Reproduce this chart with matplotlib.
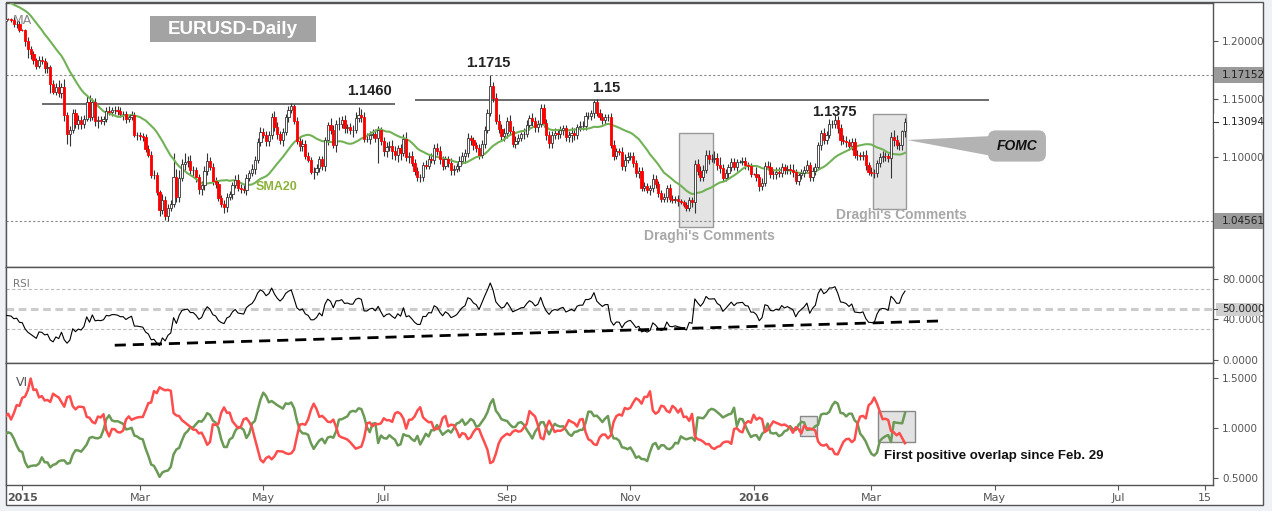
import numpy as np
import pandas as pd
import matplotlib
matplotlib.use('Agg')
import matplotlib.pyplot as plt
from matplotlib.patches import Rectangle, Polygon
from matplotlib.transforms import blended_transform_factory

# EURUSD daily closes, one per weekday starting 2014-11-24
closes = [
    1.2440, 1.2475, 1.2505, 1.2470, 1.2450,
    1.2470, 1.2385, 1.2310, 1.2380, 1.2290,
    1.2305, 1.2385, 1.2450, 1.2430, 1.2465,
    1.2440, 1.2505, 1.2340, 1.2285, 1.2230,
    1.2230, 1.2180, 1.2195, 1.2190, 1.2185,
    1.2150, 1.2155, 1.2100, 1.2095, 1.2000,
    1.1935, 1.1890, 1.1840, 1.1790, 1.1840,
    1.1830, 1.1775, 1.1780, 1.1630, 1.1565,
    1.1605, 1.1555, 1.1610, 1.1365, 1.1205,
    1.1240, 1.1380, 1.1285, 1.1320, 1.1290,
    1.1335, 1.1480, 1.1345, 1.1475, 1.1315,
    1.1325, 1.1315, 1.1330, 1.1400, 1.1390,
    1.1410, 1.1410, 1.1400, 1.1375, 1.1375,
    1.1330, 1.1350, 1.1365, 1.1195, 1.1195,
    1.1185, 1.1175, 1.1075, 1.1025, 1.0845,
    1.0850, 1.0700, 1.0550, 1.0635, 1.0495,
    1.0565, 1.0595, 1.0830, 1.0660, 1.0825,
    1.0940, 1.0960, 1.0970, 1.0890, 1.0890,
    1.0830, 1.0730, 1.0760, 1.0880, 1.0970,
    1.0920, 1.0800, 1.0770, 1.0655, 1.0600,
    1.0570, 1.0660, 1.0685, 1.0765, 1.0810,
    1.0740, 1.0730, 1.0720, 1.0825, 1.0870,
    1.0900, 1.0980, 1.1130, 1.1220, 1.1195,
    1.1140, 1.1190, 1.1350, 1.1265, 1.1200,
    1.1155, 1.1220, 1.1345, 1.1410, 1.1445,
    1.1315, 1.1145, 1.1095, 1.1120, 1.1015,
    1.0980, 1.0875, 1.0875, 1.0910, 1.0985,
    1.0925, 1.1150, 1.1280, 1.1240, 1.1110,
    1.1290, 1.1290, 1.1320, 1.1250, 1.1260,
    1.1240, 1.1240, 1.1340, 1.1365, 1.1350,
    1.1160, 1.1160, 1.1195, 1.1205, 1.1165,
    1.1235, 1.1145, 1.1055, 1.1090, 1.1100,
    1.1055, 1.1020, 1.1080, 1.1040, 1.1160,
    1.1000, 1.1015, 1.0955, 1.0880, 1.0830,
    1.0830, 1.0935, 1.0930, 1.0985, 1.0980,
    1.1085, 1.1060, 1.0985, 1.0930, 1.0985,
    1.0955, 1.0890, 1.0905, 1.0925, 1.0970,
    1.1015, 1.1040, 1.1165, 1.1150, 1.1105,
    1.1085, 1.1025, 1.1120, 1.1240, 1.1385,
    1.1615, 1.1515, 1.1315, 1.1245, 1.1185,
    1.1210, 1.1315, 1.1230, 1.1120, 1.1145,
    1.1170, 1.1200, 1.1205, 1.1280, 1.1340,
    1.1315, 1.1260, 1.1290, 1.1430, 1.1300,
    1.1195, 1.1125, 1.1190, 1.1215, 1.1200,
    1.1235, 1.1250, 1.1175, 1.1195, 1.1215,
    1.1190, 1.1260, 1.1275, 1.1275, 1.1360,
    1.1360, 1.1380, 1.1475, 1.1385, 1.1350,
    1.1320, 1.1345, 1.1345, 1.1110, 1.1015,
    1.1055, 1.1050, 1.0925, 1.0980, 1.1005,
    1.1015, 1.0950, 1.0865, 1.0880, 1.0740,
    1.0750, 1.0720, 1.0735, 1.0815, 1.0770,
    1.0690, 1.0645, 1.0660, 1.0735, 1.0645,
    1.0635, 1.0645, 1.0625, 1.0615, 1.0590,
    1.0565, 1.0630, 1.0615, 1.0940, 1.0885,
    1.0835, 1.0895, 1.1025, 1.0990, 1.0990,
    1.0995, 1.0935, 1.0910, 1.0825, 1.0865,
    1.0915, 1.0965, 1.0920, 1.0960, 1.0965,
    1.0970, 1.0935, 1.0930, 1.0860, 1.0860,
    1.0830, 1.0750, 1.0780, 1.0930, 1.0920,
    1.0860, 1.0855, 1.0875, 1.0865, 1.0915,
    1.0890, 1.0905, 1.0890, 1.0875, 1.0800,
    1.0845, 1.0870, 1.0895, 1.0935, 1.0830,
    1.0885, 1.0920, 1.1105, 1.1210, 1.1155,
    1.1195, 1.1290, 1.1290, 1.1320, 1.1255,
    1.1150, 1.1145, 1.1130, 1.1095, 1.1130,
    1.1025, 1.1020, 1.1015, 1.1025, 1.0935,
    1.0875, 1.0870, 1.0865, 1.0950, 1.1005,
    1.1015, 1.1010, 1.0995, 1.1180, 1.1150,
    1.1105, 1.1105, 1.1225, 1.1310,
]

# wick lengths in pips above max(open, close) / below min(open, close)
up_wick = [
    25, 30, 35, 20, 25,  30, 40, 30, 35, 45,  30, 45, 40, 35, 30,  60, 40, 45, 30, 25,
    20, 25, 15, 5, 15,   30, 20, 25, 5, 15,   40, 25, 30, 20, 35,  35, 30, 40, 20, 40,
    40, 60, 30, 70, 25,  30, 40, 40, 50, 40,  30, 55, 60, 35, 40,  30, 35, 25, 35, 40,
    25, 30, 30, 35, 30,  25, 20, 35, 25, 25,  25, 30, 30, 35, 30,  40, 25, 20, 50, 30,
    30, 40, 213, 70, 65, 50, 80, 40, 50, 40,  30, 30, 40, 45, 65,  35, 30, 30, 25, 25,
    30, 35, 30, 25, 40,  50, 30, 35, 30, 25,  40, 30, 35, 40, 30,  30, 40, 30, 50, 45,
    30, 30, 30, 30, 22,  20, 30, 40, 40, 30,  30, 25, 40, 30, 25,  30, 30, 25, 60, 40,
    30, 60, 40, 50, 30,  40, 40, 50, 70, 50,  40, 50, 30, 40, 40,  40, 30, 30, 40, 40,
    50, 40, 30, 40, 40,  60, 30, 40, 30, 40,  30, 30, 40, 40, 50,  30, 40, 40, 30, 30,
    30, 40, 30, 30, 40,  30, 30, 50, 30, 30,  30, 30, 30, 30, 30,  99, 40, 40, 60, 40,
    40, 30, 50, 40, 40,  30, 20, 50, 40, 30,  40, 30, 30, 30, 30,  30, 30, 40, 40, 30,
    35, 30, 30, 30, 50,  40, 30, 40, 40, 30,  30, 30, 20, 30, 30,  30, 30, 30, 40, 40,
    30, 30, 40, 50, 40,  30, 30, 30, 40, 40,  40, 30, 30, 40, 30,  30, 30, 30, 30, 40,
    30, 20, 30, 20, 20,  30, 30, 30, 41, 50,  40, 40, 40, 40, 40,  60, 40, 70, 30, 40,
    30, 30, 30, 30, 10,  30, 30, 30, 20, 10,  60, 30, 40, 30, 40,  40, 40, 40, 40, 40,
    30, 30, 40, 50, 30,  30, 30, 30, 40, 30,  30, 30, 30, 30, 40,  30, 40, 30, 56, 40,
    30, 40, 40, 30, 40,  40, 40, 30, 30, 40,  30, 40, 30, 30, 30,  40, 30, 30, 38, 60,
    40, 30, 15, 32,
]
down_wick = [
    30, 25, 20, 35, 25,  35, 30, 40, 45, 40,  45, 30, 30, 40, 35,  35, 60, 40, 35, 30,
    30, 25, 20, 5, 20,   25, 30, 20, 5, 40,   75, 40, 30, 25, 20,  20, 45, 50, 70, 20,
    30, 30, 40, 50, 90,  107, 30, 35, 40, 45, 40, 20, 30, 25, 45,  60, 30, 35, 20, 25,
    30, 35, 30, 30, 50,  35, 25, 25, 20, 45,  30, 35, 25, 25, 20,  30, 20, 55, 40, 33,
    45, 30, 20, 45, 40,  30, 50, 45, 40, 55,  40, 45, 50, 40, 30,  30, 40, 35, 30, 30,
    50, 40, 30, 40, 30,  30, 40, 30, 45, 30,  30, 40, 30, 35, 30,  40, 40, 30, 40, 40,
    40, 60, 30, 40, 30,  30, 30, 40, 40, 30,  20, 20, 60, 30, 35,  30, 40, 40, 40, 30,
    60, 50, 40, 40, 35,  40, 60, 30, 30, 40,  30, 30, 40, 30, 30,  210, 40, 40, 50, 30,
    70, 40, 60, 60, 30,  30, 50, 30, 30, 30,  40, 30, 30, 30, 30,  40, 40, 40, 40, 30,
    40, 40, 40, 30, 40,  30, 60, 40, 40, 40,  40, 40, 30, 40, 30,  30, 40, 30, 30, 30,
    40, 40, 30, 30, 40,  30, 30, 40, 30, 40,  40, 40, 40, 30, 40,  40, 40, 40, 30, 40,
    30, 40, 30, 40, 60,  40, 30, 30, 40, 40,  30, 40, 40, 30, 30,  30, 30, 30, 30, 40,
    30, 30, 30, 40, 30,  30, 30, 30, 40, 30,  30, 30, 40, 30, 30,  30, 30, 30, 40, 30,
    30, 30, 40, 20, 20,  30, 30, 40, 91, 40,  40, 40, 30, 50, 30,  40, 40, 40, 30, 30,
    40, 30, 30, 40, 10,  30, 30, 40, 30, 10,  30, 40, 30, 30, 30,  40, 40, 40, 30, 30,
    30, 30, 30, 40, 30,  40, 30, 40, 30, 30,  30, 40, 30, 40, 40,  40, 30, 40, 40, 40,
    40, 30, 40, 30, 30,  30, 40, 40, 40, 40,  30, 30, 40, 30, 30,  40, 40, 30, 173, 50,
    30, 40, 40, 50,
]

tick_dates = ['2015-01-01', '2015-03-02', '2015-05-01', '2015-07-01', '2015-09-01', '2015-11-02',
              '2016-01-01', '2016-03-01', '2016-05-02', '2016-07-01', '2016-08-15']
tick_labels = ['2015', 'Mar', 'May', 'Jul', 'Sep', 'Nov', '2016', 'Mar', 'May', 'Jul', '15']

# ---- build OHLC + indicators ----
dates = pd.bdate_range('2014-11-24', periods=len(closes))
axis_days = pd.bdate_range('2014-11-24', '2016-09-30')
def xi(d):
    return axis_days.get_loc(pd.Timestamp(d))

df = pd.DataFrame({'close': closes}, index=dates)
df['open'] = df['close'].shift(1).fillna(df['close'])
df['high'] = df[['open', 'close']].max(axis=1) + np.array(up_wick) / 1e4
df['low'] = df[['open', 'close']].min(axis=1) - np.array(down_wick) / 1e4
df['sma20'] = df['close'].rolling(20).mean()

delta = df['close'].diff()
gain = delta.clip(lower=0).ewm(alpha=1/14, adjust=False).mean()
loss = (-delta.clip(upper=0)).ewm(alpha=1/14, adjust=False).mean()
df['rsi'] = 100 - 100 / (1 + gain / loss)

prev_close = df['close'].shift(1)
tr = pd.concat([df['high'] - df['low'], (df['high'] - prev_close).abs(),
                (df['low'] - prev_close).abs()], axis=1).max(axis=1)
vm_plus = (df['high'] - df['low'].shift(1)).abs()
vm_minus = (df['low'] - df['high'].shift(1)).abs()
df['vi_plus'] = vm_plus.rolling(14).sum() / tr.rolling(14).sum()
df['vi_minus'] = vm_minus.rolling(14).sum() / tr.rolling(14).sum()
x = np.arange(len(df))

# ---- figure ----
W, H = 1272, 511
plt.rcParams['font.family'] = ['DejaVu Sans']
fig = plt.figure(figsize=(W / 100, H / 100), dpi=100, facecolor='#eef2f6')

def fig_rect(x0, y0, x1, y1):
    return [x0 / W, 1 - y1 / H, (x1 - x0) / W, (y1 - y0) / H]

def fxy(px, py):
    return (px / W, 1 - py / H)

fig.add_artist(Rectangle(fxy(6, 505), (1263 - 6) / W, (505 - 2) / H, transform=fig.transFigure,
                         facecolor='white', edgecolor='#555555', lw=1, zorder=-1))

ax = fig.add_axes(fig_rect(6, 2.5, 1213, 266.5))
ax_rsi = fig.add_axes(fig_rect(6, 266.5, 1213, 363), sharex=ax)
ax_vi = fig.add_axes(fig_rect(6, 363, 1213, 485), sharex=ax)

grey = '#555555'
for a in (ax, ax_rsi, ax_vi):
    for s in a.spines.values():
        s.set_color(grey)
        s.set_linewidth(1)
    a.yaxis.tick_right()
    a.tick_params(axis='y', direction='out', length=3.5, width=0.8, color=grey,
                  labelcolor=grey, labelsize=7.5, pad=3)
    a.tick_params(axis='x', bottom=False, labelbottom=False)

# ---- candles ----
up = df['close'] >= df['open']
ax.vlines(x, df['low'], df['high'], color='#333333', lw=0.8, zorder=3)
ax.plot(x, df['sma20'], color='#72b257', lw=1.5, zorder=3.5)
ax.bar(x, (df['close'] - df['open']).values, bottom=df['open'].values, width=0.78,
       color=np.where(up, 'white', '#ff0000'), edgecolor=np.where(up, '#333333', '#ff0000'),
       lw=0.6, zorder=4)

ax.set_xlim(22.2, 452.9)
ax.set_ylim(1.00603, 1.23362)
ax.set_yticks([1.05, 1.10, 1.15, 1.20])
ax.set_yticklabels(['', '1.10000', '1.15000', '1.20000'])   # 1.05 sits under the 1.04561 flag

# reference levels
for lvl in (1.17152, 1.04561):
    ax.axhline(lvl, color='#888888', lw=0.8, dashes=(2, 2), zorder=2)
ax.hlines(1.1462, xi('2015-01-12'), xi('2015-07-07'), color='#444444', lw=1.1, zorder=2)
ax.hlines(1.1493, xi('2015-07-16'), xi('2016-04-28'), color='#444444', lw=1.1, zorder=2)

bt = blended_transform_factory(ax.transAxes, ax.transData)
for lvl, fc, h in ((1.17152, '#9a9a9a', 0.0069), (1.04561, '#9a9a9a', 0.0069), (1.13094, 'white', 0.0065)):
    ax.add_patch(Rectangle((1.0005, lvl - h), 0.0409, 2 * h, transform=bt, facecolor=fc,
                           edgecolor='none', clip_on=False, zorder=5))
    ax.text(1.0075, lvl, '%.5f' % lvl, transform=bt, fontsize=7.5, color='#222222',
            va='center', ha='left', clip_on=False, zorder=6)
ax.plot([1.0, 1.0042], [1.13094, 1.13094], transform=bt, color='#333333', lw=0.8,
        clip_on=False, zorder=6)

# Draghi boxes
for d0, d1, y0, y1 in (('2015-11-26', '2015-12-11', 1.0397, 1.1207),
                       ('2016-03-02', '2016-03-17', 1.0560, 1.1371)):
    ax.add_patch(Rectangle((xi(d0) - 0.5, y0), xi(d1) - xi(d0) + 1, y1 - y0,
                           facecolor='#e4e4e4', edgecolor='#999999', lw=1, zorder=1))

ft = fig.transFigure
ax.text(*fxy(13, 20), 'MA', transform=ft, fontsize=9, color='#888888', va='center', zorder=1)
ax.add_patch(Rectangle(fxy(150, 42), 166 / W, 26 / H, transform=ft, facecolor='#a3a3a3',
                       edgecolor='none', zorder=6))
ax.text(*fxy(233, 29.5), 'EURUSD-Daily', transform=ft, fontsize=13.5, fontweight='bold',
        family='Liberation Sans', color='white', ha='center', va='center', zorder=7)
for px, py, s in ((370, 91, '1.1460'), (488, 63, '1.1715'), (606, 88, '1.15'), (834, 112, '1.1375')):
    ax.text(*fxy(px, py), s, transform=ft, fontsize=10.5, fontweight='bold',
            family='Liberation Sans', color='#222222', ha='center', va='center', zorder=7)
ax.text(*fxy(277, 187), 'SMA20', transform=ft, fontsize=9, fontweight='bold',
        family='Liberation Sans', color='#8db33a', ha='center', va='center', zorder=7)
for px, py in ((709, 236), (901, 215)):
    ax.text(*fxy(px, py), "Draghi's Comments", transform=ft, fontsize=10, fontweight='bold',
            family='Liberation Sans', color='#a8a8a8', ha='center', va='center', zorder=7)
ax.add_patch(Polygon([fxy(907, 140), fxy(992, 136), fxy(992, 156)], closed=True,
                     transform=ft, facecolor='#b3b3b3', edgecolor='none', clip_on=False, zorder=6))
ax.text(*fxy(1017, 146), 'FOMC', transform=ft, fontsize=10, fontweight='bold', style='italic',
        family='Liberation Sans', color='#111111', ha='center', va='center', zorder=7,
        bbox=dict(boxstyle='round,pad=0.62,rounding_size=0.55', facecolor='#b3b3b3', edgecolor='none'))

# ---- RSI ----
ax_rsi.plot(x, df['rsi'], color='black', lw=0.8, zorder=3)
ax_rsi.axhline(70, color='#bbbbbb', lw=0.8, dashes=(3, 2), zorder=1)
ax_rsi.axhline(30, color='#bbbbbb', lw=0.8, dashes=(3, 2), zorder=1)
ax_rsi.axhline(50, color='#cccccc', lw=2.2, dashes=(2.5, 1.5), zorder=1)
ax_rsi.plot([xi('2015-02-17'), xi('2016-04-06')], [14.5, 38.5], color='black', lw=2,
            dashes=(4, 2.5), zorder=4)
ax_rsi.set_ylim(-2.96, 91.9)
ax_rsi.set_yticks([0, 40, 80])
ax_rsi.set_yticklabels(['0.0000', '40.0000', '80.0000'])
bt2 = blended_transform_factory(ax_rsi.transAxes, ax_rsi.transData)
ax_rsi.add_patch(Rectangle((1.0025, 43.6), 0.0373, 12.8, transform=bt2, facecolor='#cfcfcf',
                           edgecolor='none', clip_on=False, zorder=5))
ax_rsi.plot([1.0, 1.0029], [50, 50], transform=bt2, color=grey, lw=0.8, clip_on=False, zorder=6)
ax_rsi.text(1.0075, 50, '50.0000', transform=bt2, fontsize=7.5, color='#222222',
            va='center', ha='left', clip_on=False, zorder=6)
ax_rsi.text(*fxy(13, 284), 'RSI', transform=ft, fontsize=7.5, color='#777777', va='center')

# ---- Vortex ----
ax_vi.add_patch(Rectangle((xi('2016-01-26') - 0.5, 0.918), xi('2016-02-02') - xi('2016-01-26') + 1,
                          0.204, facecolor='#e2e2e2', edgecolor='#888888', lw=1, zorder=1))
ax_vi.add_patch(Rectangle((xi('2016-03-04') - 0.5, 0.857), xi('2016-03-22') - xi('2016-03-04') + 1,
                          0.316, facecolor='#e2e2e2', edgecolor='#888888', lw=1, zorder=1))
ax_vi.plot(x, df['vi_plus'], color='#6a9a55', lw=1.8, zorder=3)
ax_vi.plot(x, df['vi_minus'], color='#ff4d4d', lw=1.8, zorder=3)
ax_vi.set_ylim(0.430, 1.654)
ax_vi.set_yticks([0.5, 1.0, 1.5])
ax_vi.set_yticklabels(['0.5000', '1.0000', '1.5000'])
ax_vi.text(*fxy(16, 382), 'VI', transform=ft, fontsize=9, color=grey, va='center')
ax_vi.text(*fxy(884, 456), 'First positive overlap since Feb. 29', transform=ft, fontsize=9.5,
           fontweight='bold', family='Liberation Sans', color='#111111',
           ha='left', va='center', zorder=6)

ax_vi.tick_params(axis='x', bottom=True, labelbottom=True, direction='out', length=3.5,
                  width=0.8, color=grey, labelcolor=grey, labelsize=8, pad=2)
ax_vi.set_xticks([xi(d) for d in tick_dates])
ax_vi.set_xticklabels(tick_labels)
for lab in ax_vi.get_xticklabels():
    if lab.get_text() in ('2015', '2016'):
        lab.set_fontweight('bold')

fig.savefig('out.png', dpi=100, facecolor=fig.get_facecolor())
